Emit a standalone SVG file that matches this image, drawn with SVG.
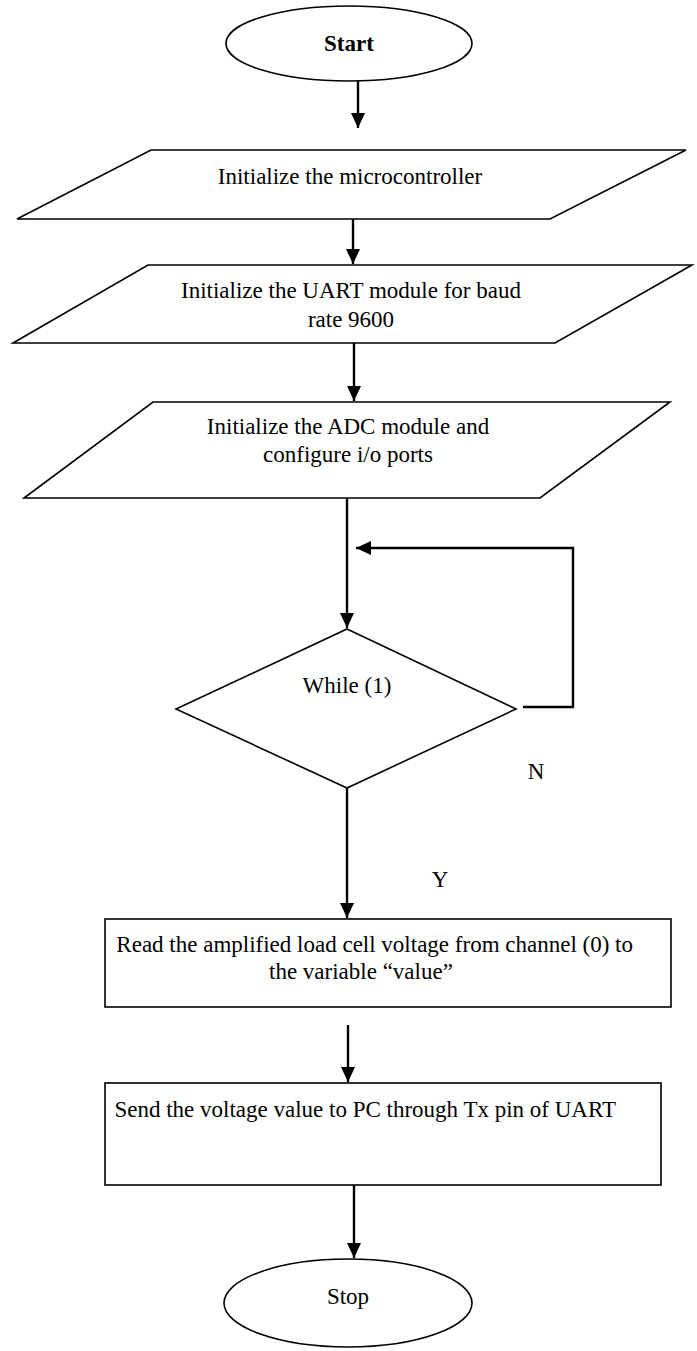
<svg xmlns="http://www.w3.org/2000/svg" width="697" height="1351" viewBox="0 0 697 1351">
<style>
.s{fill:#fff;stroke:#000;stroke-width:1.6}
.c{fill:none;stroke:#000;stroke-width:2.4}
.t{font-family:"Liberation Serif","Times New Roman",serif;font-size:23px;fill:#000}
.m{text-anchor:middle}
</style>
<defs>
<marker id="ah" markerUnits="userSpaceOnUse" markerWidth="16" markerHeight="14" refX="15" refY="7" orient="auto">
<path d="M0,0 L15,7 L0,14 z" fill="#000"/>
</marker>
</defs>
<rect width="697" height="1351" fill="#fff"/>
<g id="start">
<ellipse class="s" cx="349" cy="43.5" rx="123" ry="37.5"/>
<text class="t m" x="349" y="51" font-weight="bold">Start</text>
</g>
<g id="init-mcu">
<polygon class="s" points="151,150 686,150 550,219 17,219"/>
<text class="t m" x="350" y="184">Initialize the microcontroller</text>
</g>
<g id="init-uart">
<polygon class="s" points="148,265 692,265 555,343 13,343"/>
<text class="t m" x="351" y="298">Initialize the UART module for baud</text>
<text class="t m" x="351" y="327">rate 9600</text>
</g>
<g id="init-adc">
<polygon class="s" points="153,402 670,402 540,498 24,498"/>
<text class="t m" x="348" y="434">Initialize the ADC module and</text>
<text class="t m" x="348" y="462">configure i/o ports</text>
</g>
<g id="while">
<polygon class="s" points="347,629 516,709 347,788 176,709"/>
<text class="t m" x="347" y="693" font-size="20">While (1)</text>
</g>
<g id="read">
<rect class="s" x="105" y="919" width="566" height="88"/>
<text class="t" x="633" y="952" text-anchor="end">Read the amplified load cell voltage from channel (0) to</text>
<text class="t" x="269" y="979">the variable “value”</text>
</g>
<g id="send">
<rect class="s" x="105" y="1083" width="556" height="102"/>
<text class="t" x="616" y="1117" text-anchor="end">Send the voltage value to PC through Tx pin of UART</text>
</g>
<g id="stop">
<ellipse class="s" cx="348" cy="1303" rx="124" ry="44"/>
<text class="t m" x="348" y="1304">Stop</text>
</g>
<g id="connectors">
<line class="c" x1="358" y1="81" x2="358" y2="128" marker-end="url(#ah)"/>
<line class="c" x1="353" y1="219" x2="353" y2="264" marker-end="url(#ah)"/>
<line class="c" x1="354" y1="343" x2="354" y2="401" marker-end="url(#ah)"/>
<line class="c" x1="347" y1="498" x2="347" y2="628" marker-end="url(#ah)"/>
<polyline class="c" points="523,707 573,707 573,548 356,548" marker-end="url(#ah)"/>
<line class="c" x1="347" y1="788" x2="347" y2="918" marker-end="url(#ah)"/>
<line class="c" x1="348" y1="1025" x2="348" y2="1082" marker-end="url(#ah)"/>
<line class="c" x1="354" y1="1185" x2="354" y2="1258" marker-end="url(#ah)"/>
<text class="t m" x="536" y="779" font-size="21">N</text>
<text class="t m" x="440" y="887" font-size="21">Y</text>
</g>
</svg>
